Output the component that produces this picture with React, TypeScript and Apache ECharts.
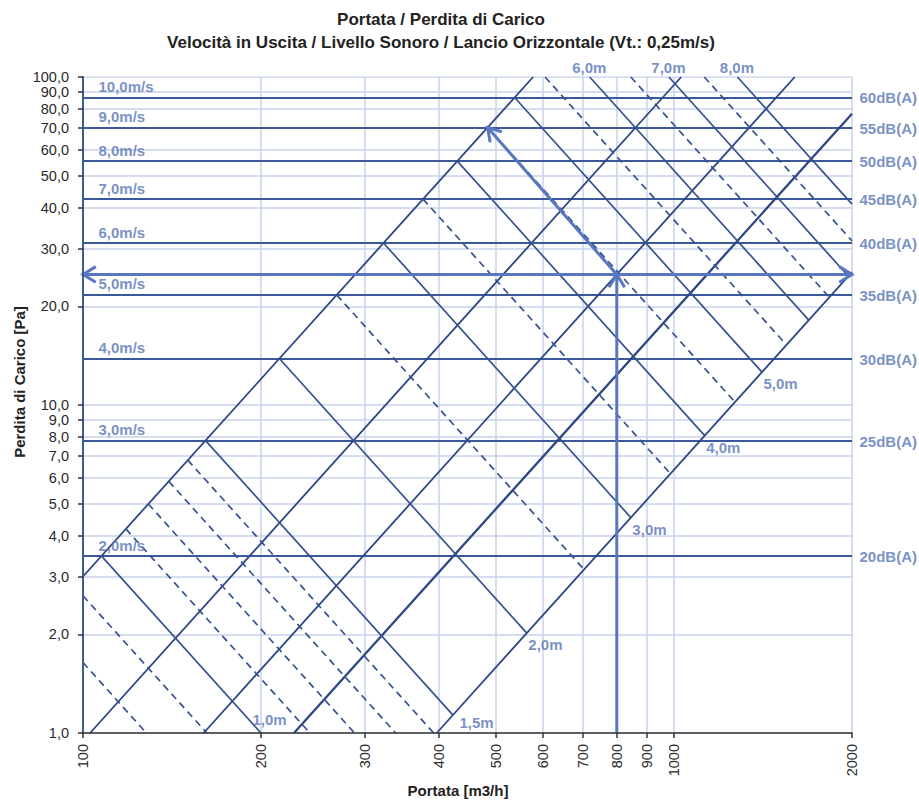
import React, { useEffect, useRef } from "react";
import * as echarts from "echarts";

const FONT = "'Liberation Sans', Arial, Helvetica, sans-serif";

// Axis ticks
const xTicks = [100, 200, 300, 400, 500, 600, 700, 800, 900, 1000, 2000];
const yTicks = [1, 2, 3, 4, 5, 6, 7, 8, 9, 10, 20, 30, 40, 50, 60, 70, 80, 90, 100];

// Outlet velocity / sound level lines (pressure drop in Pa)
const velocityLabels = ["2,0m/s", "3,0m/s", "4,0m/s", "5,0m/s", "6,0m/s", "7,0m/s", "8,0m/s", "9,0m/s", "10,0m/s"];
const soundLabels = ["20dB(A)", "25dB(A)", "30dB(A)", "35dB(A)", "40dB(A)", "45dB(A)", "50dB(A)", "55dB(A)", "60dB(A)"];
const velocityPressure = [3.46, 7.79, 13.86, 21.65, 31.18, 42.43, 55.42, 70.15, 86.6];

// Rising size lines [flow, pressure]
const sizeLineStart = [[100, 3], [102.8, 1], [160, 1], [227.5, 1], [396.7, 1]];
const sizeLineEnd = [[577.4, 100], [1028, 100], [1600, 100], [2000, 77.3], [2000, 25.4]];

// Solid throw lines [flow, pressure]
const throwLabels = ["1,0m", "1,5m", "2,0m", "3,0m", "4,0m", "5,0m", "6,0m", "7,0m", "8,0m"];
const throwStart = [[107.5, 3.46], [161.2, 7.79], [214.9, 13.86], [322.4, 31.18], [429.8, 55.42], [537.3, 86.6], [720, 100], [980, 100], [1280, 100]];
const throwEnd = [[200, 1], [422.6, 1.134], [563.4, 2.016], [845.1, 4.537], [1126.8, 8.066], [1408.5, 12.6], [1690.2, 18.15], [1971.9, 24.7], [2000, 40.96]];

// Dashed (intermediate) throw lines [flow, pressure]
const dashedThrowStart = [[100, 1.64], [100, 2.62], [118.2, 4.19], [129, 4.99], [139.7, 5.85], [150.4, 6.79], [268.7, 21.65], [376.1, 42.43], [483.6, 70.15], [605, 100], [845, 100], [1125, 100]];
const dashedThrowEnd = [[128, 1], [162, 1], [242, 1], [288, 1], [338, 1], [392, 1], [704.3, 3.151], [986, 6.175], [1267.7, 10.21], [1549.4, 15.25], [1831, 21.3], [2000, 31.65]];

// Example reading arrows
const arrowFrom = [[100, 25], [800, 1], [800, 25]];
const arrowTo = [[2000, 25], [800, 25], [483.6, 70.15]];
const arrowBothEnds = [true, false, false];

const GRID = "#c8d2eb";
const VEL = "#3b5999";
const SIZE = "#2d4784";
const THROW = "#35528e";
const ARROW = "#5877bf";
const LABEL = "#5674b6";

function fmtY(v: number) {
  const r = v >= 10 ? Math.round(v) : Math.round(v * 10) / 10;
  return r.toFixed(1).replace(".", ",");
}

export default function App() {
  const ref = useRef<HTMLDivElement>(null);

  useEffect(() => {
    if (!ref.current) return;
    const chart = echarts.init(ref.current, undefined, { renderer: "svg" });

    const gridLines = [
      ...xTicks.map((x) => ({ coords: [[x, 1], [x, 100]] })),
      ...yTicks.map((y) => ({ coords: [[100, y], [2000, y]] })),
    ];
    const velLines = velocityPressure.map((p) => ({ coords: [[100, p], [2000, p]] }));
    const sizeLines = sizeLineStart.map((s, i) => ({
      coords: [s, sizeLineEnd[i]],
      lineStyle: { width: i === 3 ? 2.3 : 1.8 },
    }));
    const solidThrows = throwStart.map((s, i) => ({ coords: [s, throwEnd[i]] }));
    const dashedThrows = dashedThrowStart.map((s, i) => ({ coords: [s, dashedThrowEnd[i]] }));

    const labelData: any[] = [];
    velocityPressure.forEach((p, i) => {
      labelData.push({
        name: velocityLabels[i],
        value: [100, p],
        label: { position: [16, -3], align: "left", verticalAlign: "bottom" },
      });
      labelData.push({
        name: soundLabels[i],
        value: [2000, p],
        label: { position: [8, 1], align: "left", verticalAlign: "middle" },
      });
    });
    throwLabels.forEach((t, i) => {
      if (throwStart[i][1] >= 100) {
        labelData.push({
          name: t,
          value: throwStart[i],
          label: { position: [0, -9], align: "center", verticalAlign: "middle" },
        });
      } else {
        const off = i === 0 ? [-8, -13] : i === 1 ? [7, 8] : [2, 12];
        labelData.push({
          name: t,
          value: throwEnd[i],
          label: { position: off, align: "left", verticalAlign: "middle" },
        });
      }
    });

    const arrowData = arrowFrom.map((f, i) => [f[0], f[1], arrowTo[i][0], arrowTo[i][1], arrowBothEnds[i] ? 1 : 0]);

    const titleStyle = (text: string, size: number) => ({
      text,
      fill: "#222222",
      fontSize: size,
      fontWeight: "bold",
      fontFamily: FONT,
      align: "center",
      verticalAlign: "middle",
      textAlign: "center",
      textVerticalAlign: "middle",
    });

    const option: any = {
      animation: false,
      backgroundColor: "#ffffff",
      textStyle: { fontFamily: FONT },
      grid: { left: 83, right: 67, top: 77, bottom: 67, containLabel: false },
      xAxis: {
        type: "log",
        logBase: 10,
        min: 100,
        max: 2000,
        z: 10,
        axisLine: { show: true, lineStyle: { color: "#333333", width: 1.5 } },
        axisTick: { show: true, length: 5, customValues: xTicks, lineStyle: { color: "#333333", width: 1.5 } },
        axisLabel: {
          customValues: xTicks,
          rotate: 90,
          margin: 11,
          color: "#2a2a2a",
          fontSize: 14.5,
          fontFamily: FONT,
          formatter: (v: number) => String(Math.round(v)),
        },
        splitLine: { show: false },
        minorTick: { show: false },
      },
      yAxis: {
        type: "log",
        logBase: 10,
        min: 1,
        max: 100,
        z: 10,
        axisLine: { show: true, lineStyle: { color: "#3d5a98", width: 2 } },
        axisTick: { show: true, length: 5, customValues: yTicks, lineStyle: { color: "#333333", width: 1.5 } },
        axisLabel: {
          customValues: yTicks,
          margin: 14,
          color: "#2a2a2a",
          fontSize: 14.5,
          fontFamily: FONT,
          formatter: (v: number) => fmtY(v),
        },
        splitLine: { show: false },
      },
      graphic: [
        { type: "text", x: 441, y: 19, style: titleStyle("Portata / Perdita di Carico", 17) },
        {
          type: "text",
          x: 441,
          y: 42,
          style: titleStyle("Velocità in Uscita / Livello Sonoro / Lancio Orizzontale (Vt.: 0,25m/s)", 17),
        },
        {
          type: "text",
          x: 19,
          y: 382,
          rotation: Math.PI / 2,
          style: titleStyle("Perdita di Carico [Pa]", 15),
        },
        { type: "text", x: 458, y: 790, style: titleStyle("Portata [m3/h]", 15) },
      ],
      series: [
        {
          type: "lines",
          coordinateSystem: "cartesian2d",
          silent: true,
          z: 1,
          lineStyle: { color: GRID, width: 1.5, opacity: 1, curveness: 0 },
          data: gridLines,
        },
        {
          type: "lines",
          coordinateSystem: "cartesian2d",
          silent: true,
          z: 2,
          lineStyle: { color: VEL, width: 2, opacity: 1, curveness: 0 },
          data: velLines,
        },
        {
          type: "lines",
          coordinateSystem: "cartesian2d",
          silent: true,
          z: 3,
          lineStyle: { color: SIZE, width: 1.8, opacity: 1, curveness: 0 },
          data: sizeLines,
        },
        {
          type: "lines",
          coordinateSystem: "cartesian2d",
          silent: true,
          z: 3,
          lineStyle: { color: THROW, width: 1.7, opacity: 1, curveness: 0 },
          data: solidThrows,
        },
        {
          type: "lines",
          coordinateSystem: "cartesian2d",
          silent: true,
          z: 3,
          lineStyle: { color: THROW, width: 1.7, opacity: 1, curveness: 0, type: [7, 5] },
          data: dashedThrows,
        },
        {
          type: "custom",
          coordinateSystem: "cartesian2d",
          silent: true,
          z: 5,
          clip: false,
          encode: { x: [0, 2], y: [1, 3] },
          data: arrowData,
          renderItem: (params: any, api: any) => {
            const p1 = api.coord([api.value(0), api.value(1)]);
            const p2 = api.coord([api.value(2), api.value(3)]);
            const head = (tip: number[], from: number[]) => {
              const ang = Math.atan2(from[1] - tip[1], from[0] - tip[0]);
              const L = 15;
              const a = 0.55;
              return {
                type: "polyline",
                shape: {
                  points: [
                    [tip[0] + L * Math.cos(ang + a), tip[1] + L * Math.sin(ang + a)],
                    [tip[0], tip[1]],
                    [tip[0] + L * Math.cos(ang - a), tip[1] + L * Math.sin(ang - a)],
                  ],
                },
                style: { stroke: ARROW, lineWidth: 3, fill: null },
              };
            };
            const children: any[] = [
              {
                type: "line",
                shape: { x1: p1[0], y1: p1[1], x2: p2[0], y2: p2[1] },
                style: { stroke: ARROW, lineWidth: 3 },
              },
              head(p2, p1),
            ];
            if (api.value(4)) children.push(head(p1, p2));
            return { type: "group", children };
          },
        },
        {
          type: "scatter",
          silent: true,
          z: 6,
          symbolSize: 1,
          itemStyle: { color: "rgba(0,0,0,0)" },
          label: {
            show: true,
            formatter: "{b}",
            color: LABEL,
            fontSize: 15,
            fontWeight: "bold",
            fontFamily: FONT,
          },
          data: labelData,
        },
      ],
    };

    chart.setOption(option);
    return () => chart.dispose();
  }, []);

  return (
    <div
      ref={ref}
      style={{ position: "fixed", left: 0, top: 0, width: 919, height: 800, background: "#fff" }}
    />
  );
}
